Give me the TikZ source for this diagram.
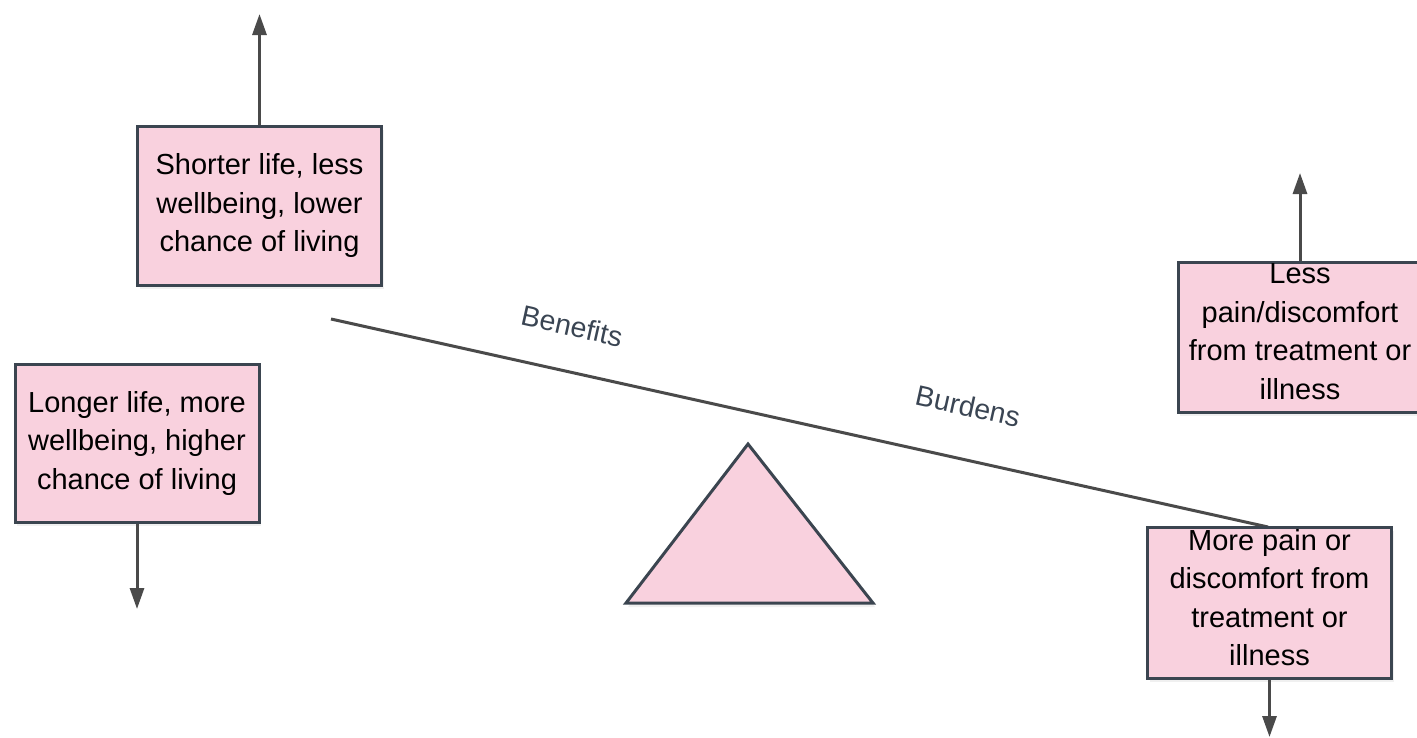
\documentclass[tikz,border=0pt]{standalone}
\usepackage{fontspec}
\setmainfont{Liberation Sans}
\usetikzlibrary{arrows.meta,shadows}
\definecolor{boxfill}{HTML}{F9D1DE}
\definecolor{boxline}{HTML}{3B4550}
\definecolor{arrowgray}{HTML}{4A4A4A}
\definecolor{labeltext}{HTML}{3A4553}
\tikzset{
  outcome/.style={draw=boxline, fill=boxfill, line width=3pt,
    minimum width=244pt, inner sep=0pt, align=center,
    font=\fontsize{29}{38.5}\selectfont,
    drop shadow={opacity=0.12, shadow xshift=2pt, shadow yshift=-4pt}},
  raised text/.style={text depth=10.5pt},
  shift arrow/.style={draw=arrowgray, line width=3pt,
    -{Triangle[length=21pt,width=14pt]}},
  beamlabel/.style={text=labeltext, font=\fontsize{28.5}{32}\selectfont, rotate=-12.5}
}
\begin{document}
\begin{tikzpicture}[x=1pt,y=-1pt]
\useasboundingbox (0,0) rectangle (1417,737);

% fulcrum
\draw[boxline, fill=boxfill, line width=3pt, line join=miter,
  drop shadow={opacity=0.12, shadow xshift=2pt, shadow yshift=-4pt}]
  (748,444) -- (873,603) -- (626,603) -- cycle;

% the balance beam
\coordinate (beamL) at (331,319);
\coordinate (beamR) at (1268,527);
\draw[arrowgray, line width=3pt] (beamL) -- (beamR);
\node[beamlabel] (benefits) at (572,326) {Benefits};
\node[beamlabel] (burdens) at (968,406) {Burdens};

% outcome boxes
\node[outcome, minimum height=159pt] (shorter) at (259.5,205.5)
  {Shorter life, less\\wellbeing, lower\\chance of living};
\node[outcome, minimum height=158pt] (longer) at (137,443)
  {Longer life, more\\wellbeing, higher\\chance of living};
\node[outcome, raised text, minimum height=150pt] (lesspain) at (1300,337)
  {Less\\pain/discomfort\\from treatment or\\illness};
\node[outcome, raised text, minimum height=151pt] (morepain) at (1269.5,602.5)
  {More pain or\\discomfort from\\treatment or\\illness};

% direction arrows
\coordinate (upL) at (259.5,14);
\coordinate (downL) at (137,609);
\coordinate (upR) at (1300,173);
\coordinate (downR) at (1269.5,737);
\draw[shift arrow] (shorter.north) -- (upL);
\draw[shift arrow] (longer.south) -- (downL);
\draw[shift arrow] (lesspain.north) -- (upR);
\draw[shift arrow] (morepain.south) -- (downR);
\end{tikzpicture}
\end{document}
